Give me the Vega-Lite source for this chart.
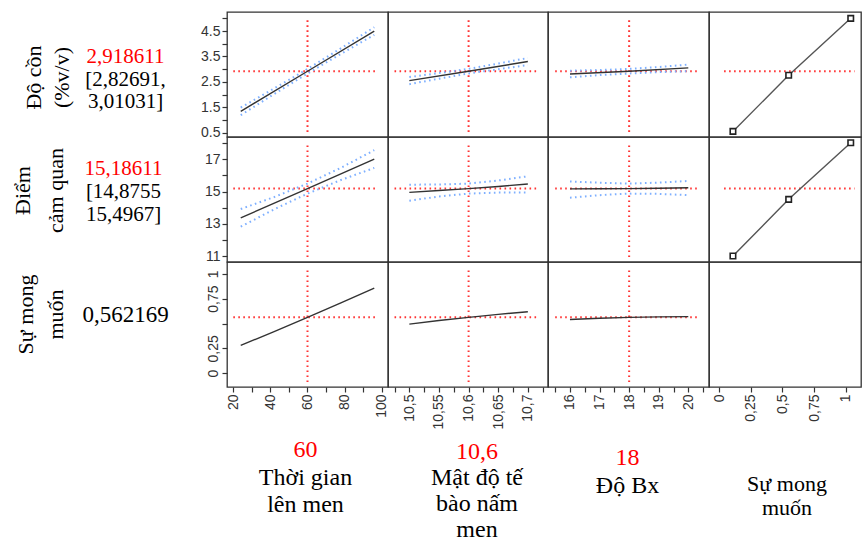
{
  "$schema": "https://vega.github.io/schema/vega-lite/v6.json",
  "padding": {"left": 0, "top": 10, "right": 0, "bottom": 0},
  "background": "white",
  "columns": 5,
  "spacing": 0,
  "bounds": "flush",
  "align": "each",
  "config": {
    "view": {"stroke": null},
    "axis": {"domain": false, "grid": false, "tickColor": "#333", "tickSize": 5, "tickWidth": 1.2, "labelFont": "Liberation Sans", "labelFontSize": 14, "labelColor": "#333", "labelOverlap": false, "labelFlush": false, "labelPadding": 2, "labelBound": false}
  },
  "concat": [
    {
      "width": 227, "height": 125,
      "data": {"values": [{"line": 1, "text": "2,918611", "kind": "value"}, {"line": 2, "text": "[2,82691,", "kind": "plain"}, {"line": 3, "text": "3,01031]", "kind": "plain"}]},
      "mark": {"type": "text", "font": "Liberation Serif", "fontSize": 21, "dx": 12},
      "encoding": {
        "y": {"field": "line", "type": "ordinal", "scale": {"type": "point", "range": [45, 90], "padding": 0},
              "axis": {"domain": false, "ticks": false, "labels": false, "title": ["Độ cồn", "(%v/v)"], "titleFont": "Liberation Serif", "titleFontSize": 22, "titleFontWeight": "normal", "titleColor": "#000", "titleX": 33, "titleY": 65, "titleAngle": 270, "titleAlign": "center", "titleBaseline": "middle", "titleLineHeight": 28}},
        "text": {"field": "text"},
        "color": {"field": "kind", "type": "nominal", "scale": {"domain": ["value", "plain"], "range": ["#ff0000", "#000000"]}, "legend": null}
      }
    },
    {
      "width": 161, "height": 125, "view": {"stroke": "#333", "strokeWidth": 1.3},
      "encoding": {
        "x": {"field": "x", "type": "quantitative", "title": null, "scale": {"domain": [16.6, 103.4], "nice": false, "zero": false}, "axis": null},
        "y": {"field": "y", "type": "quantitative", "title": null, "scale": {"domain": [0.33, 5.25], "nice": false, "zero": false},
              "axis": {"values": [0.5, 1, 1.5, 2, 2.5, 3, 3.5, 4, 4.5, 5], "labelExpr": "datum.value % 1 == 0.5 ? format(datum.value, '.1f') : ''"}}
      },
      "layer": [
        {"data": {"values": [{"x": 20, "x2": 98, "y": 2.918611}]}, "mark": {"type": "rule", "color": "#ff3333", "strokeDash": [1.6, 3.4], "strokeWidth": 2}, "encoding": {"x2": {"field": "x2"}}},
        {"data": {"values": [{"x": 60, "y": 0.53, "y2": 4.98}]}, "mark": {"type": "rule", "color": "#ff3333", "strokeDash": [1.6, 3.4], "strokeWidth": 2}, "encoding": {"y2": {"field": "y2"}}},
        {"data": {"values": [
          {"b": "u", "x": 24, "y": 1.49}, {"b": "u", "x": 42, "y": 2.24}, {"b": "u", "x": 60, "y": 3.01}, {"b": "u", "x": 78, "y": 3.82}, {"b": "u", "x": 96, "y": 4.65},
          {"b": "l", "x": 24, "y": 1.19}, {"b": "l", "x": 42, "y": 2.02}, {"b": "l", "x": 60, "y": 2.83}, {"b": "l", "x": 78, "y": 3.60}, {"b": "l", "x": 96, "y": 4.35}]},
         "mark": {"type": "line", "color": "#7fb0ff", "strokeDash": [1.6, 3.4], "strokeWidth": 2}, "encoding": {"detail": {"field": "b"}}},
        {"data": {"values": [{"x": 24, "y": 1.34}, {"x": 60, "y": 2.918611}, {"x": 96, "y": 4.5}]}, "mark": {"type": "line", "color": "#333", "strokeWidth": 1.4}}
      ]
    },
    {
      "width": 160, "height": 125, "view": {"stroke": "#333", "strokeWidth": 1.3},
      "encoding": {
        "x": {"field": "x", "type": "quantitative", "title": null, "scale": {"domain": [10.464, 10.734], "nice": false, "zero": false}, "axis": null},
        "y": {"field": "y", "type": "quantitative", "title": null, "scale": {"domain": [0.33, 5.25], "nice": false, "zero": false}, "axis": null}
      },
      "layer": [
        {"data": {"values": [{"x": 10.475, "x2": 10.716, "y": 2.918611}]}, "mark": {"type": "rule", "color": "#ff3333", "strokeDash": [1.6, 3.4], "strokeWidth": 2}, "encoding": {"x2": {"field": "x2"}}},
        {"data": {"values": [{"x": 10.6, "y": 0.53, "y2": 4.98}]}, "mark": {"type": "rule", "color": "#ff3333", "strokeDash": [1.6, 3.4], "strokeWidth": 2}, "encoding": {"y2": {"field": "y2"}}},
        {"data": {"values": [
          {"b": "u", "x": 10.5, "y": 2.69}, {"b": "u", "x": 10.55, "y": 2.845}, {"b": "u", "x": 10.6, "y": 3.01}, {"b": "u", "x": 10.65, "y": 3.22}, {"b": "u", "x": 10.7, "y": 3.44},
          {"b": "l", "x": 10.5, "y": 2.41}, {"b": "l", "x": 10.55, "y": 2.625}, {"b": "l", "x": 10.6, "y": 2.83}, {"b": "l", "x": 10.65, "y": 3.0}, {"b": "l", "x": 10.7, "y": 3.16}]},
         "mark": {"type": "line", "color": "#7fb0ff", "strokeDash": [1.6, 3.4], "strokeWidth": 2}, "encoding": {"detail": {"field": "b"}}},
        {"data": {"values": [{"x": 10.5, "y": 2.55}, {"x": 10.6, "y": 2.918611}, {"x": 10.7, "y": 3.30}]}, "mark": {"type": "line", "color": "#333", "strokeWidth": 1.4}}
      ]
    },
    {
      "width": 161, "height": 125, "view": {"stroke": "#333", "strokeWidth": 1.3},
      "encoding": {
        "x": {"field": "x", "type": "quantitative", "title": null, "scale": {"domain": [15.257, 20.70], "nice": false, "zero": false}, "axis": null},
        "y": {"field": "y", "type": "quantitative", "title": null, "scale": {"domain": [0.33, 5.25], "nice": false, "zero": false}, "axis": null}
      },
      "layer": [
        {"data": {"values": [{"x": 15.5, "x2": 20.33, "y": 2.918611}]}, "mark": {"type": "rule", "color": "#ff3333", "strokeDash": [1.6, 3.4], "strokeWidth": 2}, "encoding": {"x2": {"field": "x2"}}},
        {"data": {"values": [{"x": 18, "y": 0.53, "y2": 4.98}]}, "mark": {"type": "rule", "color": "#ff3333", "strokeDash": [1.6, 3.4], "strokeWidth": 2}, "encoding": {"y2": {"field": "y2"}}},
        {"data": {"values": [
          {"b": "u", "x": 16, "y": 2.94}, {"b": "u", "x": 17, "y": 2.965}, {"b": "u", "x": 18, "y": 3.01}, {"b": "u", "x": 19, "y": 3.085}, {"b": "u", "x": 20, "y": 3.18},
          {"b": "l", "x": 16, "y": 2.68}, {"b": "l", "x": 17, "y": 2.765}, {"b": "l", "x": 18, "y": 2.83}, {"b": "l", "x": 19, "y": 2.885}, {"b": "l", "x": 20, "y": 2.92}]},
         "mark": {"type": "line", "color": "#7fb0ff", "strokeDash": [1.6, 3.4], "strokeWidth": 2}, "encoding": {"detail": {"field": "b"}}},
        {"data": {"values": [{"x": 16, "y": 2.81}, {"x": 18, "y": 2.918611}, {"x": 20, "y": 3.05}]}, "mark": {"type": "line", "color": "#333", "strokeWidth": 1.4}}
      ]
    },
    {
      "width": 152, "height": 125, "view": {"stroke": "#333", "strokeWidth": 1.3},
      "encoding": {
        "x": {"field": "x", "type": "quantitative", "title": null, "scale": {"domain": [-0.079, 1.121], "nice": false, "zero": false}, "axis": null},
        "y": {"field": "y", "type": "quantitative", "title": null, "scale": {"domain": [0.33, 5.25], "nice": false, "zero": false}, "axis": null}
      },
      "layer": [
        {"data": {"values": [{"x": 0.04, "x2": 1.07, "y": 2.918611}]}, "mark": {"type": "rule", "color": "#ff3333", "strokeDash": [1.6, 3.4], "strokeWidth": 2}, "encoding": {"x2": {"field": "x2"}}},
        {"data": {"values": [{"x": 0.11, "y": 0.55}, {"x": 0.55, "y": 2.76}, {"x": 1.04, "y": 5.0}]}, "mark": {"type": "line", "color": "#555", "strokeWidth": 1.4, "point": {"shape": "square", "size": 30, "filled": false, "stroke": "#222", "strokeWidth": 1.6, "fill": "white"}}}
      ]
    },
    {
      "width": 227, "height": 125,
      "data": {"values": [{"line": 1, "text": "15,18611", "kind": "value"}, {"line": 2, "text": "[14,8755", "kind": "plain"}, {"line": 3, "text": "15,4967]", "kind": "plain"}]},
      "mark": {"type": "text", "font": "Liberation Serif", "fontSize": 21, "dx": 10},
      "encoding": {
        "y": {"field": "line", "type": "ordinal", "scale": {"type": "point", "range": [32, 78], "padding": 0},
              "axis": {"domain": false, "ticks": false, "labels": false, "title": ["Điểm", "cảm quan"], "titleFont": "Liberation Serif", "titleFontSize": 22, "titleFontWeight": "normal", "titleColor": "#000", "titleX": 22, "titleY": 53, "titleAngle": 270, "titleAlign": "center", "titleBaseline": "middle", "titleLineHeight": 33}},
        "text": {"field": "text"},
        "color": {"field": "kind", "type": "nominal", "scale": {"domain": ["value", "plain"], "range": ["#ff0000", "#000000"]}, "legend": null}
      }
    },
    {
      "width": 161, "height": 125, "view": {"stroke": "#333", "strokeWidth": 1.3},
      "encoding": {
        "x": {"field": "x", "type": "quantitative", "title": null, "scale": {"domain": [16.6, 103.4], "nice": false, "zero": false}, "axis": null},
        "y": {"field": "y", "type": "quantitative", "title": null, "scale": {"domain": [10.63, 18.39], "nice": false, "zero": false},
              "axis": {"values": [11, 12, 13, 14, 15, 16, 17, 18], "labelExpr": "datum.value % 2 == 1 ? format(datum.value, 'd') : ''"}}
      },
      "layer": [
        {"data": {"values": [{"x": 20, "x2": 98, "y": 15.18611}]}, "mark": {"type": "rule", "color": "#ff3333", "strokeDash": [1.6, 3.4], "strokeWidth": 2}, "encoding": {"x2": {"field": "x2"}}},
        {"data": {"values": [{"x": 60, "y": 10.94, "y2": 17.95}]}, "mark": {"type": "rule", "color": "#ff3333", "strokeDash": [1.6, 3.4], "strokeWidth": 2}, "encoding": {"y2": {"field": "y2"}}},
        {"data": {"values": [
          {"b": "u", "x": 24, "y": 13.92}, {"b": "u", "x": 42, "y": 14.66}, {"b": "u", "x": 60, "y": 15.4967}, {"b": "u", "x": 78, "y": 16.48}, {"b": "u", "x": 96, "y": 17.57},
          {"b": "l", "x": 24, "y": 12.82}, {"b": "l", "x": 42, "y": 13.90}, {"b": "l", "x": 60, "y": 14.8755}, {"b": "l", "x": 78, "y": 15.72}, {"b": "l", "x": 96, "y": 16.47}]},
         "mark": {"type": "line", "color": "#7fb0ff", "strokeDash": [1.6, 3.4], "strokeWidth": 2}, "encoding": {"detail": {"field": "b"}}},
        {"data": {"values": [{"x": 24, "y": 13.37}, {"x": 60, "y": 15.18611}, {"x": 96, "y": 17.02}]}, "mark": {"type": "line", "color": "#333", "strokeWidth": 1.4}}
      ]
    },
    {
      "width": 160, "height": 125, "view": {"stroke": "#333", "strokeWidth": 1.3},
      "encoding": {
        "x": {"field": "x", "type": "quantitative", "title": null, "scale": {"domain": [10.464, 10.734], "nice": false, "zero": false}, "axis": null},
        "y": {"field": "y", "type": "quantitative", "title": null, "scale": {"domain": [10.63, 18.39], "nice": false, "zero": false}, "axis": null}
      },
      "layer": [
        {"data": {"values": [{"x": 10.475, "x2": 10.716, "y": 15.18611}]}, "mark": {"type": "rule", "color": "#ff3333", "strokeDash": [1.6, 3.4], "strokeWidth": 2}, "encoding": {"x2": {"field": "x2"}}},
        {"data": {"values": [{"x": 10.6, "y": 10.94, "y2": 17.95}]}, "mark": {"type": "rule", "color": "#ff3333", "strokeDash": [1.6, 3.4], "strokeWidth": 2}, "encoding": {"y2": {"field": "y2"}}},
        {"data": {"values": [
          {"b": "u", "x": 10.5, "y": 15.43}, {"b": "u", "x": 10.55, "y": 15.44}, {"b": "u", "x": 10.6, "y": 15.4967}, {"b": "u", "x": 10.65, "y": 15.69}, {"b": "u", "x": 10.7, "y": 15.95},
          {"b": "l", "x": 10.5, "y": 14.43}, {"b": "l", "x": 10.55, "y": 14.70}, {"b": "l", "x": 10.6, "y": 14.8755}, {"b": "l", "x": 10.65, "y": 14.94}, {"b": "l", "x": 10.7, "y": 14.95}]},
         "mark": {"type": "line", "color": "#7fb0ff", "strokeDash": [1.6, 3.4], "strokeWidth": 2}, "encoding": {"detail": {"field": "b"}}},
        {"data": {"values": [{"x": 10.5, "y": 14.95}, {"x": 10.55, "y": 15.07}, {"x": 10.6, "y": 15.18611}, {"x": 10.65, "y": 15.32}, {"x": 10.7, "y": 15.47}]}, "mark": {"type": "line", "color": "#333", "strokeWidth": 1.4}}
      ]
    },
    {
      "width": 161, "height": 125, "view": {"stroke": "#333", "strokeWidth": 1.3},
      "encoding": {
        "x": {"field": "x", "type": "quantitative", "title": null, "scale": {"domain": [15.257, 20.70], "nice": false, "zero": false}, "axis": null},
        "y": {"field": "y", "type": "quantitative", "title": null, "scale": {"domain": [10.63, 18.39], "nice": false, "zero": false}, "axis": null}
      },
      "layer": [
        {"data": {"values": [{"x": 15.5, "x2": 20.33, "y": 15.18611}]}, "mark": {"type": "rule", "color": "#ff3333", "strokeDash": [1.6, 3.4], "strokeWidth": 2}, "encoding": {"x2": {"field": "x2"}}},
        {"data": {"values": [{"x": 18, "y": 10.94, "y2": 17.95}]}, "mark": {"type": "rule", "color": "#ff3333", "strokeDash": [1.6, 3.4], "strokeWidth": 2}, "encoding": {"y2": {"field": "y2"}}},
        {"data": {"values": [
          {"b": "u", "x": 16, "y": 15.63}, {"b": "u", "x": 17, "y": 15.55}, {"b": "u", "x": 18, "y": 15.4967}, {"b": "u", "x": 19, "y": 15.56}, {"b": "u", "x": 20, "y": 15.66},
          {"b": "l", "x": 16, "y": 14.62}, {"b": "l", "x": 17, "y": 14.78}, {"b": "l", "x": 18, "y": 14.8755}, {"b": "l", "x": 19, "y": 14.86}, {"b": "l", "x": 20, "y": 14.78}]},
         "mark": {"type": "line", "color": "#7fb0ff", "strokeDash": [1.6, 3.4], "strokeWidth": 2}, "encoding": {"detail": {"field": "b"}}},
        {"data": {"values": [{"x": 16, "y": 15.17}, {"x": 17, "y": 15.18}, {"x": 18, "y": 15.18611}, {"x": 19, "y": 15.21}, {"x": 20, "y": 15.24}]}, "mark": {"type": "line", "color": "#333", "strokeWidth": 1.4}}
      ]
    },
    {
      "width": 152, "height": 125, "view": {"stroke": "#333", "strokeWidth": 1.3},
      "encoding": {
        "x": {"field": "x", "type": "quantitative", "title": null, "scale": {"domain": [-0.079, 1.121], "nice": false, "zero": false}, "axis": null},
        "y": {"field": "y", "type": "quantitative", "title": null, "scale": {"domain": [10.63, 18.39], "nice": false, "zero": false}, "axis": null}
      },
      "layer": [
        {"data": {"values": [{"x": 0.04, "x2": 1.07, "y": 15.18611}]}, "mark": {"type": "rule", "color": "#ff3333", "strokeDash": [1.6, 3.4], "strokeWidth": 2}, "encoding": {"x2": {"field": "x2"}}},
        {"data": {"values": [{"x": 0.11, "y": 11.0}, {"x": 0.55, "y": 14.52}, {"x": 1.04, "y": 18.03}]}, "mark": {"type": "line", "color": "#555", "strokeWidth": 1.4, "point": {"shape": "square", "size": 30, "filled": false, "stroke": "#222", "strokeWidth": 1.6, "fill": "white"}}}
      ]
    },
    {
      "width": 227, "height": 125,
      "data": {"values": [{"line": 1, "text": "0,562169", "kind": "plain"}]},
      "mark": {"type": "text", "font": "Liberation Serif", "fontSize": 23, "dx": 12},
      "encoding": {
        "y": {"field": "line", "type": "ordinal", "scale": {"type": "point", "range": [53, 53], "padding": 0},
              "axis": {"domain": false, "ticks": false, "labels": false, "title": ["Sự mong", "muốn"], "titleFont": "Liberation Serif", "titleFontSize": 22, "titleFontWeight": "normal", "titleColor": "#000", "titleX": 25, "titleY": 52, "titleAngle": 270, "titleAlign": "center", "titleBaseline": "middle", "titleLineHeight": 30}},
        "text": {"field": "text"},
        "color": {"field": "kind", "type": "nominal", "scale": {"domain": ["value", "plain"], "range": ["#ff0000", "#000000"]}, "legend": null}
      }
    },
    {
      "width": 161, "height": 125, "view": {"stroke": "#333", "strokeWidth": 1.3},
      "encoding": {
        "x": {"field": "x", "type": "quantitative", "title": null, "scale": {"domain": [16.6, 103.4], "nice": false, "zero": false},
              "axis": {"values": [20, 30, 40, 50, 60, 70, 80, 90, 100], "labelAngle": 270, "labelExpr": "datum.value % 20 == 0 ? format(datum.value, 'd') : ''"}},
        "y": {"field": "y", "type": "quantitative", "title": null, "scale": {"domain": [-0.14, 1.12], "nice": false, "zero": false},
              "axis": {"values": [0, 0.25, 0.5, 0.75, 1], "labelAngle": 270, "labelExpr": "datum.value == 0.5 ? '' : replace(format(datum.value, '.2~f'), '.', ',')"}}
      },
      "layer": [
        {"data": {"values": [{"x": 20, "x2": 98, "y": 0.562169}]}, "mark": {"type": "rule", "color": "#ff3333", "strokeDash": [1.6, 3.4], "strokeWidth": 2}, "encoding": {"x2": {"field": "x2"}}},
        {"data": {"values": [{"x": 60, "y": -0.09, "y2": 1.07}]}, "mark": {"type": "rule", "color": "#ff3333", "strokeDash": [1.6, 3.4], "strokeWidth": 2}, "encoding": {"y2": {"field": "y2"}}},
        {"data": {"values": [{"x": 24, "y": 0.28}, {"x": 42, "y": 0.418}, {"x": 60, "y": 0.562169}, {"x": 78, "y": 0.708}, {"x": 96, "y": 0.857}]}, "mark": {"type": "line", "color": "#333", "strokeWidth": 1.4}}
      ]
    },
    {
      "width": 160, "height": 125, "view": {"stroke": "#333", "strokeWidth": 1.3},
      "encoding": {
        "x": {"field": "x", "type": "quantitative", "title": null, "scale": {"domain": [10.464, 10.734], "nice": false, "zero": false},
              "axis": {"values": [10.475, 10.5, 10.525, 10.55, 10.575, 10.6, 10.625, 10.65, 10.675, 10.7, 10.725], "labelAngle": 270, "labelExpr": "indexof([10.5, 10.55, 10.6, 10.65, 10.7], datum.value) >= 0 ? replace(format(datum.value, '.2~f'), '.', ',') : ''"}},
        "y": {"field": "y", "type": "quantitative", "title": null, "scale": {"domain": [-0.14, 1.12], "nice": false, "zero": false}, "axis": null}
      },
      "layer": [
        {"data": {"values": [{"x": 10.475, "x2": 10.716, "y": 0.562169}]}, "mark": {"type": "rule", "color": "#ff3333", "strokeDash": [1.6, 3.4], "strokeWidth": 2}, "encoding": {"x2": {"field": "x2"}}},
        {"data": {"values": [{"x": 10.6, "y": -0.09, "y2": 1.07}]}, "mark": {"type": "rule", "color": "#ff3333", "strokeDash": [1.6, 3.4], "strokeWidth": 2}, "encoding": {"y2": {"field": "y2"}}},
        {"data": {"values": [{"x": 10.5, "y": 0.494}, {"x": 10.55, "y": 0.53}, {"x": 10.6, "y": 0.562169}, {"x": 10.65, "y": 0.592}, {"x": 10.7, "y": 0.619}]}, "mark": {"type": "line", "color": "#333", "strokeWidth": 1.4}}
      ]
    },
    {
      "width": 161, "height": 125, "view": {"stroke": "#333", "strokeWidth": 1.3},
      "encoding": {
        "x": {"field": "x", "type": "quantitative", "title": null, "scale": {"domain": [15.257, 20.70], "nice": false, "zero": false},
              "axis": {"values": [15.5, 16, 16.5, 17, 17.5, 18, 18.5, 19, 19.5, 20, 20.5], "labelAngle": 270, "labelExpr": "datum.value % 1 == 0 ? format(datum.value, 'd') : ''"}},
        "y": {"field": "y", "type": "quantitative", "title": null, "scale": {"domain": [-0.14, 1.12], "nice": false, "zero": false}, "axis": null}
      },
      "layer": [
        {"data": {"values": [{"x": 15.5, "x2": 20.33, "y": 0.562169}]}, "mark": {"type": "rule", "color": "#ff3333", "strokeDash": [1.6, 3.4], "strokeWidth": 2}, "encoding": {"x2": {"field": "x2"}}},
        {"data": {"values": [{"x": 18, "y": -0.09, "y2": 1.07}]}, "mark": {"type": "rule", "color": "#ff3333", "strokeDash": [1.6, 3.4], "strokeWidth": 2}, "encoding": {"y2": {"field": "y2"}}},
        {"data": {"values": [{"x": 16, "y": 0.541}, {"x": 17, "y": 0.553}, {"x": 18, "y": 0.562169}, {"x": 19, "y": 0.567}, {"x": 20, "y": 0.569}]}, "mark": {"type": "line", "color": "#333", "strokeWidth": 1.4}}
      ]
    },
    {
      "width": 152, "height": 125, "view": {"stroke": "#333", "strokeWidth": 1.3},
      "data": {"values": [{"x": 0.5, "y": 0.5}]},
      "mark": {"type": "point", "opacity": 0},
      "encoding": {
        "x": {"field": "x", "type": "quantitative", "title": null, "scale": {"domain": [-0.079, 1.121], "nice": false, "zero": false},
              "axis": {"values": [0, 0.25, 0.5, 0.75, 1], "labelAngle": 270, "labelExpr": "replace(format(datum.value, '.2~f'), '.', ',')"}},
        "y": {"field": "y", "type": "quantitative", "title": null, "scale": {"domain": [-0.14, 1.12], "nice": false, "zero": false}, "axis": null}
      }
    },
    {
      "width": 227, "height": 160,
      "data": {"values": [{"t": ""}]},
      "mark": {"type": "text"},
      "encoding": {"text": {"field": "t"}}
    },
    {
      "width": 161, "height": 160,
      "data": {"values": [{"line": 1, "text": "60", "kind": "value"}, {"line": 2, "text": "Thời gian", "kind": "plain"}, {"line": 3, "text": "lên men", "kind": "plain"}]},
      "mark": {"type": "text", "font": "Liberation Serif", "fontSize": 24, "dx": -2},
      "encoding": {
        "y": {"field": "line", "type": "ordinal", "scale": {"type": "point", "range": [63, 118], "padding": 0}, "axis": null},
        "text": {"field": "text"},
        "color": {"field": "kind", "type": "nominal", "scale": {"domain": ["value", "plain"], "range": ["#ff0000", "#000000"]}, "legend": null}
      }
    },
    {
      "width": 160, "height": 160,
      "data": {"values": [{"line": 1, "text": "10,6", "kind": "value"}, {"line": 2, "text": "Mật độ tế", "kind": "plain"}, {"line": 3, "text": "bào nấm", "kind": "plain"}, {"line": 4, "text": "men", "kind": "plain"}]},
      "mark": {"type": "text", "font": "Liberation Serif", "fontSize": 24, "dx": 9},
      "encoding": {
        "y": {"field": "line", "type": "ordinal", "scale": {"type": "point", "range": [65, 143], "padding": 0}, "axis": null},
        "text": {"field": "text"},
        "color": {"field": "kind", "type": "nominal", "scale": {"domain": ["value", "plain"], "range": ["#ff0000", "#000000"]}, "legend": null}
      }
    },
    {
      "width": 161, "height": 160,
      "data": {"values": [{"line": 1, "text": "18", "kind": "value"}, {"line": 2, "text": "Độ Bx", "kind": "plain"}]},
      "mark": {"type": "text", "font": "Liberation Serif", "fontSize": 24, "dx": -1},
      "encoding": {
        "y": {"field": "line", "type": "ordinal", "scale": {"type": "point", "range": [71, 99], "padding": 0}, "axis": null},
        "text": {"field": "text"},
        "color": {"field": "kind", "type": "nominal", "scale": {"domain": ["value", "plain"], "range": ["#ff0000", "#000000"]}, "legend": null}
      }
    },
    {
      "width": 152, "height": 160,
      "data": {"values": [{"line": 1, "text": "Sự mong", "kind": "plain"}, {"line": 2, "text": "muốn", "kind": "plain"}]},
      "mark": {"type": "text", "font": "Liberation Serif", "fontSize": 22, "dx": 2},
      "encoding": {
        "y": {"field": "line", "type": "ordinal", "scale": {"type": "point", "range": [97, 121], "padding": 0}, "axis": null},
        "text": {"field": "text"},
        "color": {"field": "kind", "type": "nominal", "scale": {"domain": ["value", "plain"], "range": ["#ff0000", "#000000"]}, "legend": null}
      }
    }
  ]
}
